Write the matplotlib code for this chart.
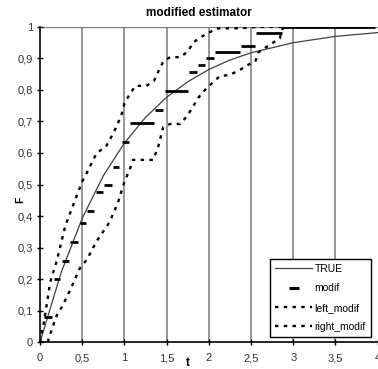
import matplotlib.pyplot as plt
from matplotlib.ticker import FuncFormatter

plt.rcParams['font.family'] = ['Liberation Sans', 'DejaVu Sans']
plt.rcParams['lines.scale_dashes'] = False

# true distribution function
t_true = [0, 0.25, 0.5, 0.75, 1.0, 1.25, 1.5, 1.75, 2.0, 2.25, 2.5, 3.0, 3.5, 4.0]
F_true = [0, 0.221, 0.393, 0.528, 0.632, 0.713, 0.777, 0.826, 0.865, 0.895, 0.918, 0.950, 0.970, 0.982]

# modified estimator: flat pieces (start, end, level)
modif_start = [-0.03, 0.05, 0.16, 0.26, 0.36, 0.47, 0.56, 0.66, 0.76, 0.86, 0.97, 1.07, 1.36,
               1.48, 1.77, 1.87, 1.97, 2.07, 2.38, 2.56, 2.88]
modif_end = [0.03, 0.14, 0.24, 0.34, 0.45, 0.55, 0.64, 0.74, 0.85, 0.94, 1.05, 1.35, 1.46,
             1.75, 1.86, 1.96, 2.06, 2.37, 2.55, 2.87, 3.97]
modif_F = [0.0, 0.078, 0.20, 0.257, 0.316, 0.377, 0.417, 0.477, 0.497, 0.556, 0.634, 0.695, 0.737,
           0.797, 0.857, 0.879, 0.90, 0.92, 0.94, 0.982, 1.0]

# bounds
t_left = [0, 0.05, 0.12, 0.2, 0.3, 0.4, 0.5, 0.56, 0.67, 0.78, 0.85, 0.91, 0.97, 1.0, 1.07, 1.13,
          1.26, 1.35, 1.40, 1.46, 1.54, 1.66, 1.75, 1.82, 1.92, 1.99, 2.09, 2.37, 2.57, 2.87]
F_left = [0, 0.07, 0.19, 0.26, 0.37, 0.44, 0.51, 0.54, 0.60, 0.62, 0.654, 0.686, 0.726, 0.758,
          0.79, 0.813, 0.813, 0.829, 0.858, 0.89, 0.904, 0.904, 0.922, 0.952, 0.97, 0.98, 0.995,
          0.996, 1.0, 1.0]
t_right = [0.09, 0.15, 0.2, 0.26, 0.36, 0.47, 0.55, 0.67, 0.82, 0.92, 1.0, 1.06, 1.1, 1.22, 1.34,
           1.4, 1.46, 1.54, 1.66, 1.75, 1.88, 1.97, 2.13, 2.25, 2.37, 2.51, 2.55, 2.59, 2.84, 2.88]
F_right = [0, 0.049, 0.086, 0.112, 0.167, 0.234, 0.26, 0.32, 0.379, 0.44, 0.509, 0.546, 0.578,
           0.578, 0.578, 0.62, 0.683, 0.692, 0.692, 0.72, 0.777, 0.805, 0.844, 0.848, 0.864, 0.887,
           0.89, 0.92, 0.964, 1.0]

x_ticks = [0, 0.5, 1, 1.5, 2, 2.5, 3, 3.5, 4]
y_ticks = [0, 0.1, 0.2, 0.3, 0.4, 0.5, 0.6, 0.7, 0.8, 0.9, 1]

fig = plt.figure(figsize=(3.78, 3.69), dpi=100)
ax = fig.add_axes([0.106, 0.073, 0.893, 0.854])

for xv in x_ticks[1:-1]:
    ax.axvline(xv, color='#7a7a7a', lw=1.1, zorder=1)
ax.axhline(1, color='#7a7a7a', lw=0.9, zorder=1)

ax.plot(t_true, F_true, color='#404040', lw=0.9, label='TRUE', zorder=3)
ax.hlines(modif_F, modif_start, modif_end, color='black', lw=2, zorder=4)
ax.plot([], [], ls='none', marker='_', ms=7, mew=2.2, color='black', label='modif')
ax.plot(t_left, F_left, color='black', lw=1.7, ls=(0, (2.5, 3.8)), label='left_modif', zorder=3)
ax.plot(t_right, F_right, color='black', lw=1.7, ls=(0, (2.5, 3.8)), label='right_modif', zorder=3)

ax.set_xlim(0, 4)
ax.set_ylim(0, 1)
ax.set_xticks(x_ticks)
ax.set_yticks(y_ticks)
comma = FuncFormatter(lambda v, p: ('%g' % v).replace('.', ','))
ax.xaxis.set_major_formatter(comma)
ax.yaxis.set_major_formatter(comma)
ax.tick_params(direction='inout', length=4, width=1, labelsize=8, colors='black',
               labelcolor='#333333')
ax.tick_params(axis='x', pad=6)
ax.tick_params(axis='y', pad=3)

for side in ['top', 'right']:
    ax.spines[side].set_visible(False)
for side in ['left', 'bottom']:
    ax.spines[side].set_linewidth(1.2)

ax.set_title('modified estimator', fontsize=8.5, fontweight='bold', pad=8, x=0.47)
ax.text(1.75, -0.048, 't', fontsize=8.5, fontweight='bold', ha='center', va='top')
ax.set_ylabel('F', fontsize=7.5, fontweight='bold')
ax.yaxis.set_label_coords(-0.045, 0.45)

leg = ax.legend(loc='lower right', bbox_to_anchor=(0.98, 0.015), fontsize=7.5, frameon=True,
                fancybox=False, edgecolor='black', framealpha=1, handlelength=3.6,
                handletextpad=0.2, borderpad=0.5, labelspacing=0.9, borderaxespad=0)
leg.get_frame().set_linewidth(1)

fig.savefig('out.png', dpi=100)
